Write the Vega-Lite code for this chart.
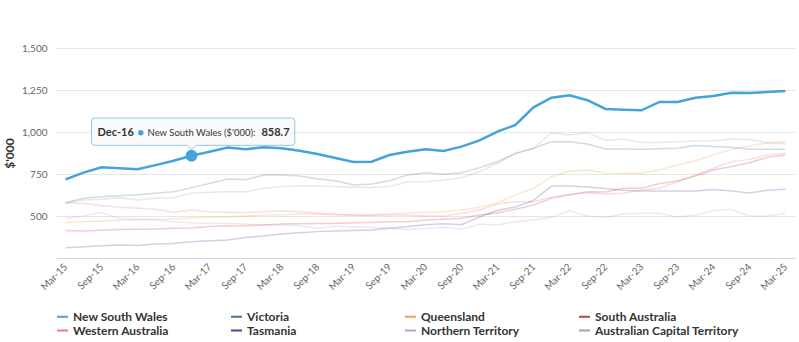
{
  "$schema": "https://vega.github.io/schema/vega-lite/v6.json",
  "width": 739,
  "height": 210,
  "autosize": {"type": "none"},
  "padding": {"left": 56, "top": 48, "right": 4, "bottom": 84},
  "background": "white",
  "config": {"font": "Lato", "view": {"stroke": null}},
  "datasets": {
    "wide": [
      {"quarter": "Mar-15", "New South Wales": 718, "Victoria": 579, "Queensland": 462, "South Australia": 413, "Western Australia": 579, "Tasmania": 311, "Northern Territory": 486, "Australian Capital Territory": 579},
      {"quarter": "Jun-15", "New South Wales": 758, "Victoria": 605, "Queensland": 466, "South Australia": 411, "Western Australia": 575, "Tasmania": 317, "Northern Territory": 500, "Australian Capital Territory": 595},
      {"quarter": "Sep-15", "New South Wales": 790, "Victoria": 615, "Queensland": 470, "South Australia": 415, "Western Australia": 562, "Tasmania": 323, "Northern Territory": 522, "Australian Capital Territory": 599},
      {"quarter": "Dec-15", "New South Wales": 784, "Victoria": 621, "Queensland": 474, "South Australia": 419, "Western Australia": 552, "Tasmania": 327, "Northern Territory": 486, "Australian Capital Territory": 609},
      {"quarter": "Mar-16", "New South Wales": 778, "Victoria": 627, "Queensland": 476, "South Australia": 421, "Western Australia": 546, "Tasmania": 325, "Northern Territory": 480, "Australian Capital Territory": 595},
      {"quarter": "Jun-16", "New South Wales": 803, "Victoria": 635, "Queensland": 480, "South Australia": 423, "Western Australia": 540, "Tasmania": 333, "Northern Territory": 476, "Australian Capital Territory": 605},
      {"quarter": "Sep-16", "New South Wales": 829, "Victoria": 645, "Queensland": 482, "South Australia": 427, "Western Australia": 522, "Tasmania": 337, "Northern Territory": 466, "Australian Capital Territory": 609},
      {"quarter": "Dec-16", "New South Wales": 858.7, "Victoria": 669, "Queensland": 490, "South Australia": 429, "Western Australia": 536, "Tasmania": 347, "Northern Territory": 460, "Australian Capital Territory": 635},
      {"quarter": "Mar-17", "New South Wales": 883, "Victoria": 694, "Queensland": 492, "South Australia": 437, "Western Australia": 526, "Tasmania": 353, "Northern Territory": 456, "Australian Capital Territory": 641},
      {"quarter": "Jun-17", "New South Wales": 907, "Victoria": 720, "Queensland": 496, "South Australia": 440, "Western Australia": 522, "Tasmania": 357, "Northern Territory": 456, "Australian Capital Territory": 645},
      {"quarter": "Sep-17", "New South Wales": 897, "Victoria": 716, "Queensland": 500, "South Australia": 442, "Western Australia": 520, "Tasmania": 372, "Northern Territory": 452, "Australian Capital Territory": 645},
      {"quarter": "Dec-17", "New South Wales": 909, "Victoria": 744, "Queensland": 506, "South Australia": 446, "Western Australia": 526, "Tasmania": 381, "Northern Territory": 446, "Australian Capital Territory": 665},
      {"quarter": "Mar-18", "New South Wales": 903, "Victoria": 744, "Queensland": 508, "South Australia": 452, "Western Australia": 530, "Tasmania": 393, "Northern Territory": 446, "Australian Capital Territory": 675},
      {"quarter": "Jun-18", "New South Wales": 889, "Victoria": 738, "Queensland": 512, "South Australia": 454, "Western Australia": 526, "Tasmania": 401, "Northern Territory": 440, "Australian Capital Territory": 679},
      {"quarter": "Sep-18", "New South Wales": 869, "Victoria": 720, "Queensland": 512, "South Australia": 456, "Western Australia": 516, "Tasmania": 407, "Northern Territory": 427, "Australian Capital Territory": 679},
      {"quarter": "Dec-18", "New South Wales": 845, "Victoria": 710, "Queensland": 508, "South Australia": 456, "Western Australia": 510, "Tasmania": 411, "Northern Territory": 440, "Australian Capital Territory": 675},
      {"quarter": "Mar-19", "New South Wales": 821, "Victoria": 685, "Queensland": 506, "South Australia": 460, "Western Australia": 504, "Tasmania": 413, "Northern Territory": 436, "Australian Capital Territory": 671},
      {"quarter": "Jun-19", "New South Wales": 823, "Victoria": 690, "Queensland": 506, "South Australia": 462, "Western Australia": 504, "Tasmania": 417, "Northern Territory": 432, "Australian Capital Territory": 669},
      {"quarter": "Sep-19", "New South Wales": 863, "Victoria": 710, "Queensland": 512, "South Australia": 466, "Western Australia": 506, "Tasmania": 427, "Northern Territory": 427, "Australian Capital Territory": 675},
      {"quarter": "Dec-19", "New South Wales": 883, "Victoria": 744, "Queensland": 518, "South Australia": 466, "Western Australia": 506, "Tasmania": 437, "Northern Territory": 420, "Australian Capital Territory": 704},
      {"quarter": "Mar-20", "New South Wales": 897, "Victoria": 758, "Queensland": 524, "South Australia": 476, "Western Australia": 500, "Tasmania": 448, "Northern Territory": 425, "Australian Capital Territory": 704},
      {"quarter": "Jun-20", "New South Wales": 887, "Victoria": 748, "Queensland": 524, "South Australia": 480, "Western Australia": 500, "Tasmania": 454, "Northern Territory": 433, "Australian Capital Territory": 714},
      {"quarter": "Sep-20", "New South Wales": 913, "Victoria": 758, "Queensland": 536, "South Australia": 486, "Western Australia": 516, "Tasmania": 448, "Northern Territory": 421, "Australian Capital Territory": 728},
      {"quarter": "Dec-20", "New South Wales": 950, "Victoria": 788, "Queensland": 552, "South Australia": 506, "Western Australia": 536, "Tasmania": 494, "Northern Territory": 452, "Australian Capital Territory": 764},
      {"quarter": "Mar-21", "New South Wales": 1002, "Victoria": 823, "Queensland": 579, "South Australia": 520, "Western Australia": 571, "Tasmania": 534, "Northern Territory": 446, "Australian Capital Territory": 813},
      {"quarter": "Jun-21", "New South Wales": 1042, "Victoria": 873, "Queensland": 625, "South Australia": 540, "Western Australia": 585, "Tasmania": 554, "Northern Territory": 466, "Australian Capital Territory": 873},
      {"quarter": "Sep-21", "New South Wales": 1147, "Victoria": 903, "Queensland": 665, "South Australia": 565, "Western Australia": 585, "Tasmania": 593, "Northern Territory": 476, "Australian Capital Territory": 903},
      {"quarter": "Dec-21", "New South Wales": 1204, "Victoria": 942, "Queensland": 734, "South Australia": 605, "Western Australia": 611, "Tasmania": 678, "Northern Territory": 492, "Australian Capital Territory": 996},
      {"quarter": "Mar-22", "New South Wales": 1218, "Victoria": 942, "Queensland": 768, "South Australia": 625, "Western Australia": 631, "Tasmania": 678, "Northern Territory": 532, "Australian Capital Territory": 982},
      {"quarter": "Jun-22", "New South Wales": 1189, "Victoria": 929, "Queensland": 774, "South Australia": 645, "Western Australia": 639, "Tasmania": 672, "Northern Territory": 500, "Australian Capital Territory": 996},
      {"quarter": "Sep-22", "New South Wales": 1137, "Victoria": 899, "Queensland": 756, "South Australia": 643, "Western Australia": 631, "Tasmania": 663, "Northern Territory": 492, "Australian Capital Territory": 950},
      {"quarter": "Dec-22", "New South Wales": 1133, "Victoria": 899, "Queensland": 754, "South Australia": 665, "Western Australia": 635, "Tasmania": 653, "Northern Territory": 512, "Australian Capital Territory": 958},
      {"quarter": "Mar-23", "New South Wales": 1129, "Victoria": 897, "Queensland": 754, "South Australia": 665, "Western Australia": 655, "Tasmania": 649, "Northern Territory": 516, "Australian Capital Territory": 938},
      {"quarter": "Jun-23", "New South Wales": 1179, "Victoria": 901, "Queensland": 774, "South Australia": 694, "Western Australia": 665, "Tasmania": 649, "Northern Territory": 516, "Australian Capital Territory": 938},
      {"quarter": "Sep-23", "New South Wales": 1179, "Victoria": 903, "Queensland": 804, "South Australia": 708, "Western Australia": 704, "Tasmania": 649, "Northern Territory": 492, "Australian Capital Territory": 942},
      {"quarter": "Dec-23", "New South Wales": 1204, "Victoria": 919, "Queensland": 829, "South Australia": 738, "Western Australia": 744, "Tasmania": 649, "Northern Territory": 506, "Australian Capital Territory": 946},
      {"quarter": "Mar-24", "New South Wales": 1214, "Victoria": 913, "Queensland": 863, "South Australia": 774, "Western Australia": 784, "Tasmania": 657, "Northern Territory": 532, "Australian Capital Territory": 948},
      {"quarter": "Jun-24", "New South Wales": 1234, "Victoria": 909, "Queensland": 897, "South Australia": 794, "Western Australia": 823, "Tasmania": 649, "Northern Territory": 540, "Australian Capital Territory": 958},
      {"quarter": "Sep-24", "New South Wales": 1232, "Victoria": 897, "Queensland": 917, "South Australia": 817, "Western Australia": 837, "Tasmania": 637, "Northern Territory": 500, "Australian Capital Territory": 956},
      {"quarter": "Dec-24", "New South Wales": 1238, "Victoria": 897, "Queensland": 936, "South Australia": 849, "Western Australia": 863, "Tasmania": 653, "Northern Territory": 500, "Australian Capital Territory": 936},
      {"quarter": "Mar-25", "New South Wales": 1244, "Victoria": 897, "Queensland": 942, "South Australia": 863, "Western Australia": 873, "Tasmania": 659, "Northern Territory": 516, "Australian Capital Territory": 930}
    ],
    "tip": [
      {"quarter": "Dec-16", "value": 858.7, "label": "New South Wales ($'000):"}
    ]
  },
  "encoding": {
    "x": {
      "field": "quarter",
      "type": "ordinal",
      "scale": {
        "type": "point",
        "padding": 0.53,
        "domain": ["Mar-15","Jun-15","Sep-15","Dec-15","Mar-16","Jun-16","Sep-16","Dec-16","Mar-17","Jun-17","Sep-17","Dec-17","Mar-18","Jun-18","Sep-18","Dec-18","Mar-19","Jun-19","Sep-19","Dec-19","Mar-20","Jun-20","Sep-20","Dec-20","Mar-21","Jun-21","Sep-21","Dec-21","Mar-22","Jun-22","Sep-22","Dec-22","Mar-23","Jun-23","Sep-23","Dec-23","Mar-24","Jun-24","Sep-24","Dec-24","Mar-25"]
      },
      "axis": {
        "title": null,
        "labelAngle": -45,
        "labelAlign": "right",
        "labelBaseline": "middle",
        "labelPadding": 7,
        "labelOverlap": false,
        "labelExpr": "(substring(datum.label, 0, 3) === 'Mar' || substring(datum.label, 0, 3) === 'Sep') ? datum.label : ''",
        "ticks": false,
        "grid": false,
        "domainColor": "#ccd6eb",
        "labelColor": "#666666",
        "labelFontSize": 10,
        "labelFont": "Lato"
      }
    },
    "y": {
      "field": "value",
      "type": "quantitative",
      "scale": {"domain": [250, 1500], "nice": false, "zero": false},
      "axis": {
        "values": [500, 750, 1000, 1250, 1500],
        "format": ",.0f",
        "title": "$'000",
        "grid": true,
        "gridColor": "#e6e6e6",
        "domain": false,
        "ticks": false,
        "labelPadding": 9,
        "labelColor": "#666666",
        "labelFontSize": 10,
        "labelFont": "Lato",
        "titleFont": "Lato",
        "titleFontSize": 12,
        "titleFontWeight": "bold",
        "titleColor": "#333333",
        "titleAngle": -90,
        "titleX": -47,
        "titleY": 105,
        "titleAlign": "center",
        "titleBaseline": "middle"
      }
    }
  },
  "layer": [
    {
      "data": {"name": "wide"},
      "transform": [
        {"fold": ["New South Wales","Victoria","Queensland","South Australia","Western Australia","Tasmania","Northern Territory","Australian Capital Territory"], "as": ["state", "value"]},
        {"filter": "datum.state !== 'New South Wales'"}
      ],
      "mark": {"type": "line", "strokeWidth": 1.5, "opacity": 0.25},
      "encoding": {
        "color": {
          "field": "state",
          "type": "nominal",
          "scale": {
            "domain": ["New South Wales","Victoria","Queensland","South Australia","Western Australia","Tasmania","Northern Territory","Australian Capital Territory"],
            "range": ["#44a3d9","#4d7394","#f0a04a","#c0404a","#f57a7a","#5e3c9e","#c49ade","#a3a3a3"]
          },
          "legend": {
            "title": null,
            "orient": "none",
            "legendX": 0,
            "legendY": 262,
            "direction": "horizontal",
            "columns": 4,
            "gridAlign": "all",
            "columnPadding": 10,
            "rowPadding": 1,
            "symbolType": "stroke",
            "symbolSize": 121,
            "symbolStrokeWidth": 2,
            "symbolOpacity": 1,
            "labelFont": "Lato",
            "labelFontSize": 12,
            "labelFontWeight": "bold",
            "labelColor": "#333333",
            "labelOffset": 4,
            "labelLimit": 300
          }
        }
      }
    },
    {
      "data": {"name": "wide"},
      "transform": [
        {"fold": ["New South Wales"], "as": ["state", "value"]}
      ],
      "mark": {"type": "line", "strokeWidth": 2.5},
      "encoding": {
        "color": {"field": "state", "type": "nominal"}
      }
    },
    {
      "data": {"name": "tip"},
      "mark": {"type": "point", "filled": true, "size": 140, "color": "#44a3d9", "opacity": 1}
    },
    {
      "data": {"name": "tip"},
      "mark": {
        "type": "point",
        "shape": "M-0.97,-0.377 L1.003,-0.377 Q1.033,-0.377 1.033,-0.347 L1.033,-0.134 Q1.033,-0.104 1.003,-0.104 L0.045,-0.104 L0,-0.064 L-0.045,-0.104 L-0.97,-0.104 Q-1,-0.104 -1,-0.134 L-1,-0.347 Q-1,-0.377 -0.97,-0.377 Z",
        "size": 40000,
        "filled": true,
        "fill": "#fafafa",
        "fillOpacity": 0.95,
        "stroke": "#8ccaea",
        "strokeWidth": 1,
        "opacity": 1
      }
    },
    {
      "data": {"name": "tip"},
      "mark": {"type": "text", "align": "left", "baseline": "alphabetic", "dx": -94, "dy": -20, "font": "Lato", "fontSize": 11, "fontWeight": "bold", "color": "#333333"},
      "encoding": {"text": {"field": "quarter"}}
    },
    {
      "data": {"name": "tip"},
      "mark": {"type": "point", "filled": true, "size": 30, "color": "#44a3d9", "opacity": 1, "xOffset": -50.7, "yOffset": -23}
    },
    {
      "data": {"name": "tip"},
      "mark": {"type": "text", "align": "left", "baseline": "alphabetic", "dx": -44, "dy": -20, "font": "Lato", "fontSize": 9.5, "color": "#333333"},
      "encoding": {"text": {"field": "label"}}
    },
    {
      "data": {"name": "tip"},
      "mark": {"type": "text", "align": "right", "baseline": "alphabetic", "dx": 98, "dy": -20, "font": "Lato", "fontSize": 11, "fontWeight": "bold", "color": "#333333"},
      "encoding": {"text": {"field": "value", "type": "quantitative", "format": ".1f"}}
    }
  ]
}
